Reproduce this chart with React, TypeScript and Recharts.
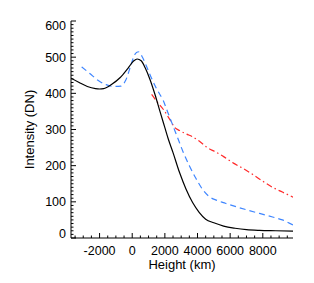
import { LineChart, Line, XAxis, YAxis } from "recharts";

// Height (km) -> Intensity (DN)
const blackCurve = [
  { h: -3750, v: 442 }, { h: -3250, v: 430 }, { h: -2750, v: 419 }, { h: -2250, v: 413 },
  { h: -2000, v: 412 }, { h: -1750, v: 413 }, { h: -1250, v: 425 }, { h: -750, v: 443 },
  { h: -250, v: 470 }, { h: 100, v: 490 }, { h: 300, v: 495 }, { h: 550, v: 490 },
  { h: 800, v: 470 }, { h: 1100, v: 437 }, { h: 1400, v: 396 }, { h: 1700, v: 350 },
  { h: 2000, v: 305 }, { h: 2200, v: 275 }, { h: 2500, v: 236 }, { h: 2900, v: 181 },
  { h: 3300, v: 135 }, { h: 3700, v: 98 }, { h: 4100, v: 71 }, { h: 4500, v: 52 },
  { h: 5000, v: 42 }, { h: 5600, v: 33 }, { h: 6300, v: 27 }, { h: 7000, v: 23 },
  { h: 7800, v: 21 }, { h: 8800, v: 20 }, { h: 9850, v: 19 },
];

const blueCurve = [
  { h: -3100, v: 473 }, { h: -2600, v: 455 }, { h: -2100, v: 436 }, { h: -1600, v: 424 },
  { h: -1100, v: 419 }, { h: -700, v: 420 }, { h: -400, v: 436 }, { h: -100, v: 475 },
  { h: 150, v: 507 }, { h: 370, v: 515 }, { h: 600, v: 502 }, { h: 900, v: 472 },
  { h: 1200, v: 440 }, { h: 1500, v: 412 }, { h: 1900, v: 380 }, { h: 2200, v: 345 },
  { h: 2500, v: 310 }, { h: 2800, v: 275 }, { h: 3100, v: 240 }, { h: 3500, v: 200 },
  { h: 3900, v: 165 }, { h: 4300, v: 135 }, { h: 4700, v: 115 }, { h: 5200, v: 104 },
  { h: 5700, v: 96 }, { h: 6400, v: 86 }, { h: 7000, v: 78 }, { h: 7800, v: 68 },
  { h: 8600, v: 58 }, { h: 9200, v: 50 }, { h: 9850, v: 36 },
];

const redCurve = [
  { h: 1190, v: 397 }, { h: 1500, v: 378 }, { h: 1900, v: 356 }, { h: 2300, v: 328 },
  { h: 2600, v: 306 }, { h: 2900, v: 297 }, { h: 3300, v: 288 }, { h: 3700, v: 280 },
  { h: 4100, v: 268 }, { h: 4600, v: 250 }, { h: 5100, v: 238 }, { h: 5600, v: 225 },
  { h: 6200, v: 207 }, { h: 6800, v: 192 }, { h: 7400, v: 175 }, { h: 8000, v: 157 },
  { h: 8600, v: 140 }, { h: 9200, v: 127 }, { h: 9850, v: 113 },
];

const X_DOMAIN = [-3750, 9850];
const Y_DOMAIN = [0, 600];
const xLabels = [-2000, 0, 2000, 4000, 6000, 8000];
const yLabels = [0, 100, 200, 300, 400, 500, 600];
const xMinor = Array.from({ length: 27 }, (_, i) => -3500 + i * 500);
const yMinor = Array.from({ length: 61 }, (_, i) => i * 10);

const FONT = "'Liberation Sans', Arial, sans-serif";

function BottomTick({ x, y, payload }: any) {
  const major = xLabels.includes(payload.value);
  return (
    <g>
      <line x1={x} x2={x} y1={y} y2={y - (major ? 5 : 2.5)} stroke="#000" />
      {major && (
        <text x={x} y={y + 16.5} textAnchor="middle" fontSize={12.5} fontFamily={FONT} fill="#000">
          {payload.value}
        </text>
      )}
    </g>
  );
}

function TopTick({ x, y, payload }: any) {
  const major = xLabels.includes(payload.value);
  return <line x1={x} x2={x} y1={y} y2={y + (major ? 5 : 2.5)} stroke="#000" />;
}

function LeftTick({ x, y, payload }: any) {
  const major = yLabels.includes(payload.value);
  // edge labels are pulled inside the frame
  let dy = 4.5;
  if (payload.value === 0) dy = 0;
  if (payload.value === 600) dy = 9;
  return (
    <g>
      <line x1={x} x2={x + (major ? 5 : 2.5)} y1={y} y2={y} stroke="#000" />
      {major && (
        <text x={x - 5} y={y + dy} textAnchor="end" fontSize={12.5} fontFamily={FONT} fill="#000">
          {payload.value}
        </text>
      )}
    </g>
  );
}

function RightTick({ x, y, payload }: any) {
  const major = yLabels.includes(payload.value);
  return <line x1={x} x2={x - (major ? 5 : 2.5)} y1={y} y2={y} stroke="#000" />;
}

export default function App() {
  return (
    <div style={{ position: "absolute", left: 0, top: 0, background: "#fff" }}>
      <LineChart width={314} height={283} margin={{ top: 21, right: 21, bottom: 0, left: 0 }}>
        <XAxis
          xAxisId="b"
          dataKey="h"
          type="number"
          orientation="bottom"
          domain={X_DOMAIN}
          allowDataOverflow
          ticks={xMinor}
          interval={0}
          height={45}
          tickSize={0}
          tickMargin={0}
          tickLine={false}
          axisLine={{ stroke: "#000" }}
          tick={<BottomTick />}
          label={{
            value: "Height (km)",
            position: "insideBottom",
            offset: 14,
            style: { fontSize: 13, fontFamily: FONT, fill: "#000" },
          }}
        />
        <XAxis
          xAxisId="t"
          dataKey="h"
          type="number"
          orientation="top"
          domain={X_DOMAIN}
          allowDataOverflow
          ticks={xMinor}
          interval={0}
          height={0}
          tickSize={0}
          tickMargin={0}
          tickLine={false}
          axisLine={{ stroke: "#000" }}
          tick={<TopTick />}
        />
        <YAxis
          yAxisId="l"
          type="number"
          orientation="left"
          domain={Y_DOMAIN}
          allowDataOverflow
          ticks={yMinor}
          interval={0}
          width={71}
          tickSize={0}
          tickMargin={0}
          tickLine={false}
          axisLine={{ stroke: "#000" }}
          tick={<LeftTick />}
          label={{
            value: "Intensity (DN)",
            angle: -90,
            position: "insideLeft",
            offset: 29,
            style: { fontSize: 13, fontFamily: FONT, fill: "#000", textAnchor: "middle" },
          }}
        />
        <YAxis
          yAxisId="r"
          type="number"
          orientation="right"
          domain={Y_DOMAIN}
          allowDataOverflow
          ticks={yMinor}
          interval={0}
          width={0}
          tickSize={0}
          tickMargin={0}
          tickLine={false}
          axisLine={{ stroke: "#000" }}
          tick={<RightTick />}
        />
        <Line
          data={redCurve}
          dataKey="v"
          xAxisId="b"
          yAxisId="l"
          type="monotone"
          stroke="#ff2a2a"
          strokeWidth={1.2}
          strokeDasharray="6 3 1.5 3"
          dot={false}
          isAnimationActive={false}
        />
        <Line
          data={blueCurve}
          dataKey="v"
          xAxisId="b"
          yAxisId="l"
          type="monotone"
          stroke="#3f86ff"
          strokeWidth={1.2}
          strokeDasharray="6 4"
          dot={false}
          isAnimationActive={false}
        />
        <Line
          data={blackCurve}
          dataKey="v"
          xAxisId="b"
          yAxisId="l"
          type="monotone"
          stroke="#000"
          strokeWidth={1.2}
          dot={false}
          isAnimationActive={false}
        />
      </LineChart>
    </div>
  );
}
